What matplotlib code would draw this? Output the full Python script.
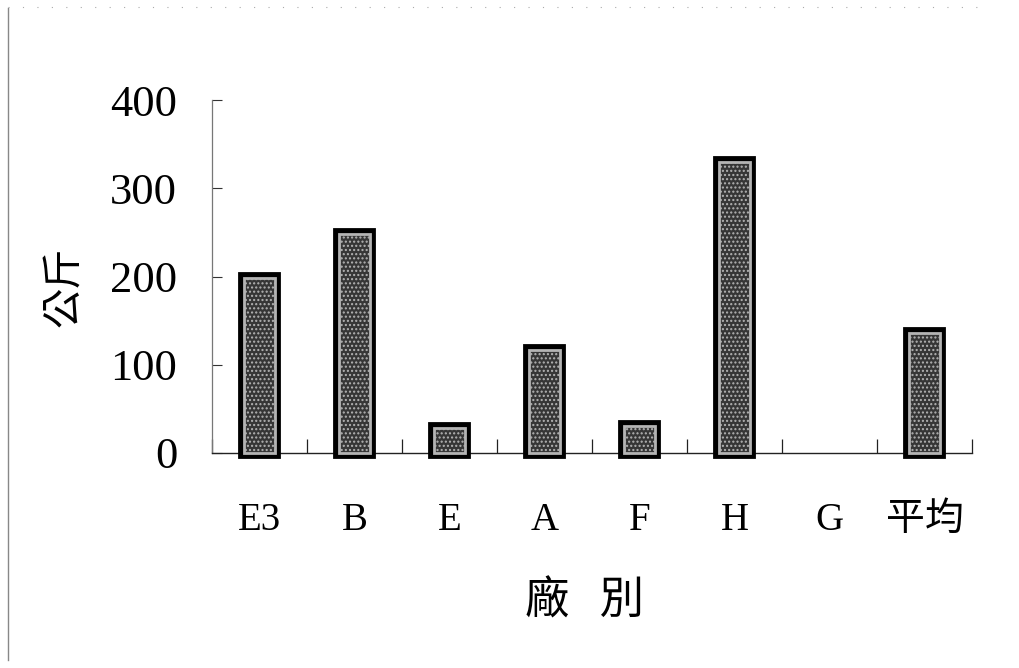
import matplotlib
matplotlib.use("Agg")
import matplotlib.pyplot as plt
import matplotlib.patheffects as pe
from matplotlib.lines import Line2D
import numpy as np

# Data
categories = ["E3", "B", "E", "A", "F", "H", "G", "平均"]
weights_kg = [198, 248, 28, 117, 31, 330, 0, 136]
y_ticks = [0, 100, 200, 300, 400]
y_label = "公斤"
x_label = "廠   別"

serif = ["Liberation Serif", "DejaVu Serif"]
cjk = ["Noto Sans CJK TC", "DejaVu Sans"]
mixed = ["Liberation Serif", "Noto Sans CJK TC", "DejaVu Sans"]

fig = plt.figure(figsize=(10.2, 6.68), dpi=100)
ax = fig.add_axes([212 / 1020, 1 - 453 / 668, 760 / 1020, 353 / 668])

x = np.arange(len(categories))
bars = ax.bar(x, weights_kg, width=0.33, facecolor="#363636",
              edgecolor="#b4b4b4", linewidth=2.0, hatch="....",
              clip_on=False, zorder=3)
for b in bars:
    b.set_path_effects([pe.Stroke(linewidth=8.5, foreground="black"), pe.Normal()])
    if b.get_height() == 0:
        b.set_visible(False)

ax.set_xlim(-0.5, len(categories) - 0.5)
ax.set_ylim(0, 400)
ax.set_yticks(y_ticks)
ax.set_yticklabels([str(v) for v in y_ticks], family=serif, fontsize=32)
ax.tick_params(axis="y", direction="in", length=7, width=0.8, pad=25,
               colors="#333333", labelcolor="black")

ax.set_xticks(x)
ax.set_xticklabels(categories, family=mixed, fontsize=28)
ax.tick_params(axis="x", which="major", length=0, pad=35)
ax.set_xticks(np.arange(-0.5, len(categories), 1.0), minor=True)
ax.tick_params(axis="x", which="minor", direction="in", length=10, width=0.9,
               colors="#222222")

for side in ("top", "right"):
    ax.spines[side].set_visible(False)
ax.spines["left"].set_color("#777777")
ax.spines["left"].set_linewidth(0.9)
ax.spines["bottom"].set_color("#222222")
ax.spines["bottom"].set_linewidth(1.0)

fig.text(65 / 1020, 1 - 287 / 668, y_label, rotation=90, ha="center",
         va="center", family=cjk, fontsize=29)
fig.text(585 / 1020, 1 - 600 / 668, x_label, ha="center", va="center",
         family=cjk, fontsize=32)

# Page frame lines
fig.add_artist(Line2D([8 / 1020, 8 / 1020], [1 - 660 / 668, 1 - 8 / 668],
                      transform=fig.transFigure, color="#888888", lw=1.0))
fig.add_artist(Line2D([8 / 1020, 980 / 1020], [1 - 7 / 668, 1 - 7 / 668],
                      transform=fig.transFigure, color="#aaaaaa", lw=0.8,
                      linestyle=(0, (1, 12))))

fig.savefig("out.png", dpi=100, facecolor="white")
